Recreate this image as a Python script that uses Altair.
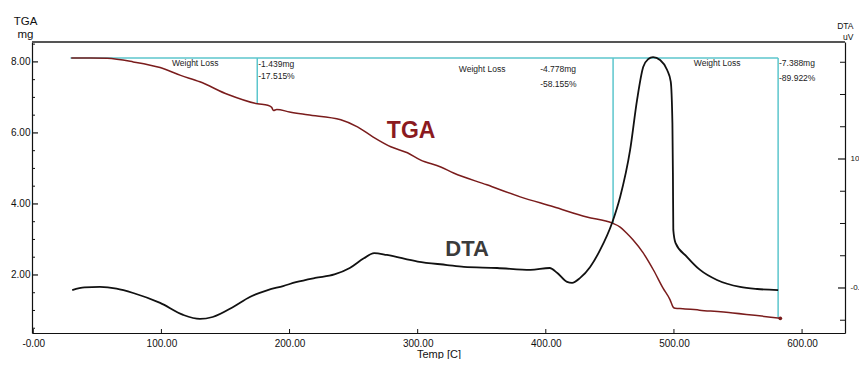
import altair as alt
import pandas as pd
import numpy as np

# ---------------- data ----------------
tga_temp = [29.6, 45, 57.7, 78, 99, 115, 130, 152, 175, 183, 186, 187.5, 190, 200, 214,
            240, 253, 265, 279, 292, 302, 318, 328, 354, 380, 406, 432, 452, 458, 463,
            468, 476, 484, 491.5, 497, 499.3, 501, 507, 520, 546, 583]
tga_mg = [8.11, 8.11, 8.10, 8.00, 7.84, 7.62, 7.44, 7.08, 6.82, 6.78, 6.72, 6.63, 6.66, 6.59, 6.51,
          6.37, 6.17, 5.89, 5.61, 5.44, 5.24, 5.04, 4.87, 4.54, 4.20, 3.92, 3.63, 3.46, 3.35, 3.18,
          2.99, 2.62, 2.14, 1.63, 1.30, 1.10, 1.06, 1.05, 1.01, 0.93, 0.78]

dta_temp = [30.4, 40, 52, 65, 78, 99, 117, 130, 140, 156, 169, 183, 195, 205, 220, 235, 247, 258,
            266, 276, 300, 323, 336, 362, 388, 403, 409, 416.6, 420.5, 426.8, 434.6, 442.4, 451.7,
            458, 465.8, 471.2, 476, 480, 483.7, 489.2, 494.7, 497.5, 498.8, 499.2, 499.5, 501.2,
            510.3, 520.4, 533.6, 551.6, 565, 581.3]
dta_uv = [-1.6, 0.5, 0.8, -0.5, -3.9, -11.6, -20.9, -24.0, -22.5, -14.7, -7.0, -1.6, 1.5, 4.5, 7.8,
          10.5, 15.5, 23, 27.1, 25.6, 20.5, 17.8, 16.3, 15.5, 14.0, 15.5, 11.6, 4.7, 3.9, 7.8, 16.3,
          29.5, 50.4, 70.5, 107, 145.7, 171.3, 177.5, 179, 176.7, 169, 160, 128, 89, 45, 35, 24, 14,
          6.2, 0.8, -0.8, -1.6]

# weight-loss step markers
wl_temp = [174.8, 452.5, 581.3]
wl_top = [8.11, 8.11, 8.11]
wl_bottom = [6.82, 3.46, 0.80]
wl_start = [29.0]
wl_end = [581.3]
wl_level = [8.11]

wl_label_temp = [126.4, 350.3, 533.7]
wl_label_mg = [7.97, 7.80, 7.97]
wl_label = ["Weight Loss", "Weight Loss", "Weight Loss"]

wl_val_temp = [175.6, 395.6, 582.0]
wl_mg_text = ["-1.439mg", "-4.778mg", "-7.388mg"]
wl_mg_pos = [7.95, 7.80, 7.97]
wl_pct_text = ["-17.515%", "-58.155%", "-89.922%"]
wl_pct_pos = [7.60, 7.38, 7.55]

x_ticks = [0, 100, 200, 300, 400, 500, 600]
tga_major = [2, 4, 6, 8]
tga_minor = [0.5, 1, 1.5, 2.5, 3, 3.5, 4.5, 5, 5.5, 6.5, 7, 7.5, 8.5]
dta_major = [0, 100]
dta_minor = [-25, 25, 50, 75, 125, 150, 175]

# ---------------- styling ----------------
SANS = "Liberation Sans, Arial, sans-serif"
W, H = 813, 291
CYAN = "#5cc6cd"
TGA_COL = "#7a1c1c"

tga_df = pd.DataFrame({"T": tga_temp, "mg": tga_mg})
dta_df = pd.DataFrame({"T": dta_temp, "uV": dta_uv, "i": range(len(dta_temp))})
vl_df = pd.DataFrame({"T": wl_temp, "top": wl_top, "bottom": wl_bottom})
hl_df = pd.DataFrame({"x1": wl_start, "x2": wl_end, "mg": wl_level})
lab_df = pd.DataFrame({"T": wl_label_temp, "mg": wl_label_mg, "txt": wl_label})
val_df = pd.DataFrame({"T": wl_val_temp * 2, "mg": wl_mg_pos + wl_pct_pos,
                       "txt": wl_mg_text + wl_pct_text})
xt_df = pd.DataFrame({"t": x_ticks})
tmaj_df = pd.DataFrame({"v": tga_major})
tmin_df = pd.DataFrame({"v": tga_minor})
dmaj_df = pd.DataFrame({"v": dta_major})
dmin_df = pd.DataFrame({"v": dta_minor})
tga_lbl_df = pd.DataFrame({"T": [294.9], "mg": [6.06], "txt": ["TGA"]})
dta_lbl_df = pd.DataFrame({"T": [338.6], "uV": [30.2], "txt": ["DTA"]})
tga_end_df = pd.DataFrame({"T": [tga_temp[-1]], "mg": [tga_mg[-1]]})

xs = alt.Scale(domain=[-1, 633.5], nice=False, zero=False)
x_axis = alt.Axis(values=x_ticks,
                  labelExpr="datum.value == 0 ? '-0.00' : format(datum.value, '.2f')",
                  ticks=False, grid=False, domainColor="#111", domainWidth=1.2,
                  labelFont=SANS, labelFontSize=10, labelColor="#111", labelPadding=5,
                  title="Temp [C]", titleFont=SANS, titleFontSize=11, titleFontWeight="normal",
                  titleColor="#111", titleY=24, titleBaseline="alphabetic")

tga_ys = alt.Scale(domain=[0.366, 8.56], nice=False, zero=False)
left_axis = alt.Axis(orient="left", values=tga_major, format=".2f", ticks=False, grid=False,
                     domainColor="#111", domainWidth=1.2, labelFont=SANS, labelFontSize=10,
                     labelColor="#111", labelPadding=2,
                     title=["TGA", "mg"], titleAngle=0, titleAlign="center", titleX=-7, titleY=-18,
                     titleBaseline="alphabetic", titleFont=SANS, titleFontSize=11.5,
                     titleFontWeight="normal", titleLineHeight=13, titleColor="#111")

dta_ys = alt.Scale(domain=[-34.9, 190.7], nice=False, zero=False)
right_axis = alt.Axis(orient="right", values=dta_major,
                      labelExpr="datum.value == 0 ? '-0.00' : format(datum.value, '.2f')",
                      ticks=False, grid=False, domainColor="#111", domainWidth=1.2,
                      labelFont=SANS, labelFontSize=8, labelColor="#111", labelPadding=5,
                      title=["DTA", "uV"], titleAngle=0, titleAlign="right", titleX=8, titleY=-14,
                      titleBaseline="alphabetic", titleFont=SANS, titleFontSize=8.5,
                      titleFontWeight="normal", titleLineHeight=11, titleColor="#111")


def X(f):
    return alt.X(f, type="quantitative", scale=xs, axis=x_axis)


def YT(f):
    return alt.Y(f, type="quantitative", scale=tga_ys, axis=left_axis)


def YD(f):
    return alt.Y(f, type="quantitative", scale=dta_ys, axis=right_axis)


# ---------------- TGA group ----------------
top_border = alt.Chart(tga_end_df).mark_rule(color="#555", strokeWidth=2.2).encode(
    x=alt.value(0), x2=alt.value(W), y=alt.value(0))

hline = alt.Chart(hl_df).mark_rule(color=CYAN, strokeWidth=1.5).encode(
    x=X("x1"), x2="x2", y=YT("mg"))
vlines = alt.Chart(vl_df).mark_rule(color=CYAN, strokeWidth=1.5).encode(
    x=X("T"), y=YT("top"), y2="bottom")

tga_line = alt.Chart(tga_df).mark_line(color=TGA_COL, strokeWidth=1.5, interpolate="monotone").encode(
    x=X("T"), y=YT("mg"))
tga_end = alt.Chart(tga_end_df).mark_point(filled=True, color=TGA_COL, size=14, opacity=1).encode(
    x=X("T"), y=YT("mg"))

wl_labels = alt.Chart(lab_df).mark_text(font=SANS, fontSize=8.5, color="#222", align="center",
                                        baseline="middle").encode(x=X("T"), y=YT("mg"), text="txt")
wl_values = alt.Chart(val_df).mark_text(font=SANS, fontSize=8.5, color="#222", align="left",
                                        baseline="middle").encode(x=X("T"), y=YT("mg"), text="txt")

tga_big = alt.Chart(tga_lbl_df).mark_text(font=SANS, fontSize=23, fontWeight="bold", color="#8b1a1f",
                                          align="center", baseline="middle").encode(
    x=X("T"), y=YT("mg"), text="txt")

tmaj = alt.Chart(tmaj_df).mark_rule(color="#111", strokeWidth=1.2).encode(
    y=YT("v"), x=alt.value(0), x2=alt.value(6))
tmin = alt.Chart(tmin_df).mark_rule(color="#111", strokeWidth=1).encode(
    y=YT("v"), x=alt.value(0), x2=alt.value(3))

xticks = alt.Chart(xt_df).mark_rule(color="#111", strokeWidth=1).encode(
    x=X("t"), y=alt.value(H), y2=alt.value(H - 4))

tga_group = alt.layer(top_border, hline, vlines, tga_line, tga_end, wl_labels, wl_values,
                      tga_big, tmaj, tmin, xticks)

# ---------------- DTA group ----------------
dta_line = alt.Chart(dta_df).mark_line(color="#111", strokeWidth=1.8, interpolate="monotone").encode(
    x=X("T"), y=YD("uV"), order="i:Q")
dta_big = alt.Chart(dta_lbl_df).mark_text(font=SANS, fontSize=22, fontWeight="bold", color="#3b3b3b",
                                          align="center", baseline="middle").encode(
    x=X("T"), y=YD("uV"), text="txt")
dmaj = alt.Chart(dmaj_df).mark_rule(color="#111", strokeWidth=1.2).encode(
    y=YD("v"), x=alt.value(W - 7), x2=alt.value(W))
dmin = alt.Chart(dmin_df).mark_rule(color="#111", strokeWidth=1).encode(
    y=YD("v"), x=alt.value(W - 5), x2=alt.value(W))

dta_group = alt.layer(dta_line, dta_big, dmaj, dmin)

chart = alt.layer(tga_group, dta_group).resolve_scale(y="independent").properties(
    width=W, height=H,
    padding={"left": 24, "top": 34, "right": 14, "bottom": 26},
    autosize=alt.AutoSizeParams(type="none"),
    background="white",
).configure_view(stroke=None).configure_axis(grid=False)

chart.save("out.html", embed_options={"renderer": "svg", "actions": False})
